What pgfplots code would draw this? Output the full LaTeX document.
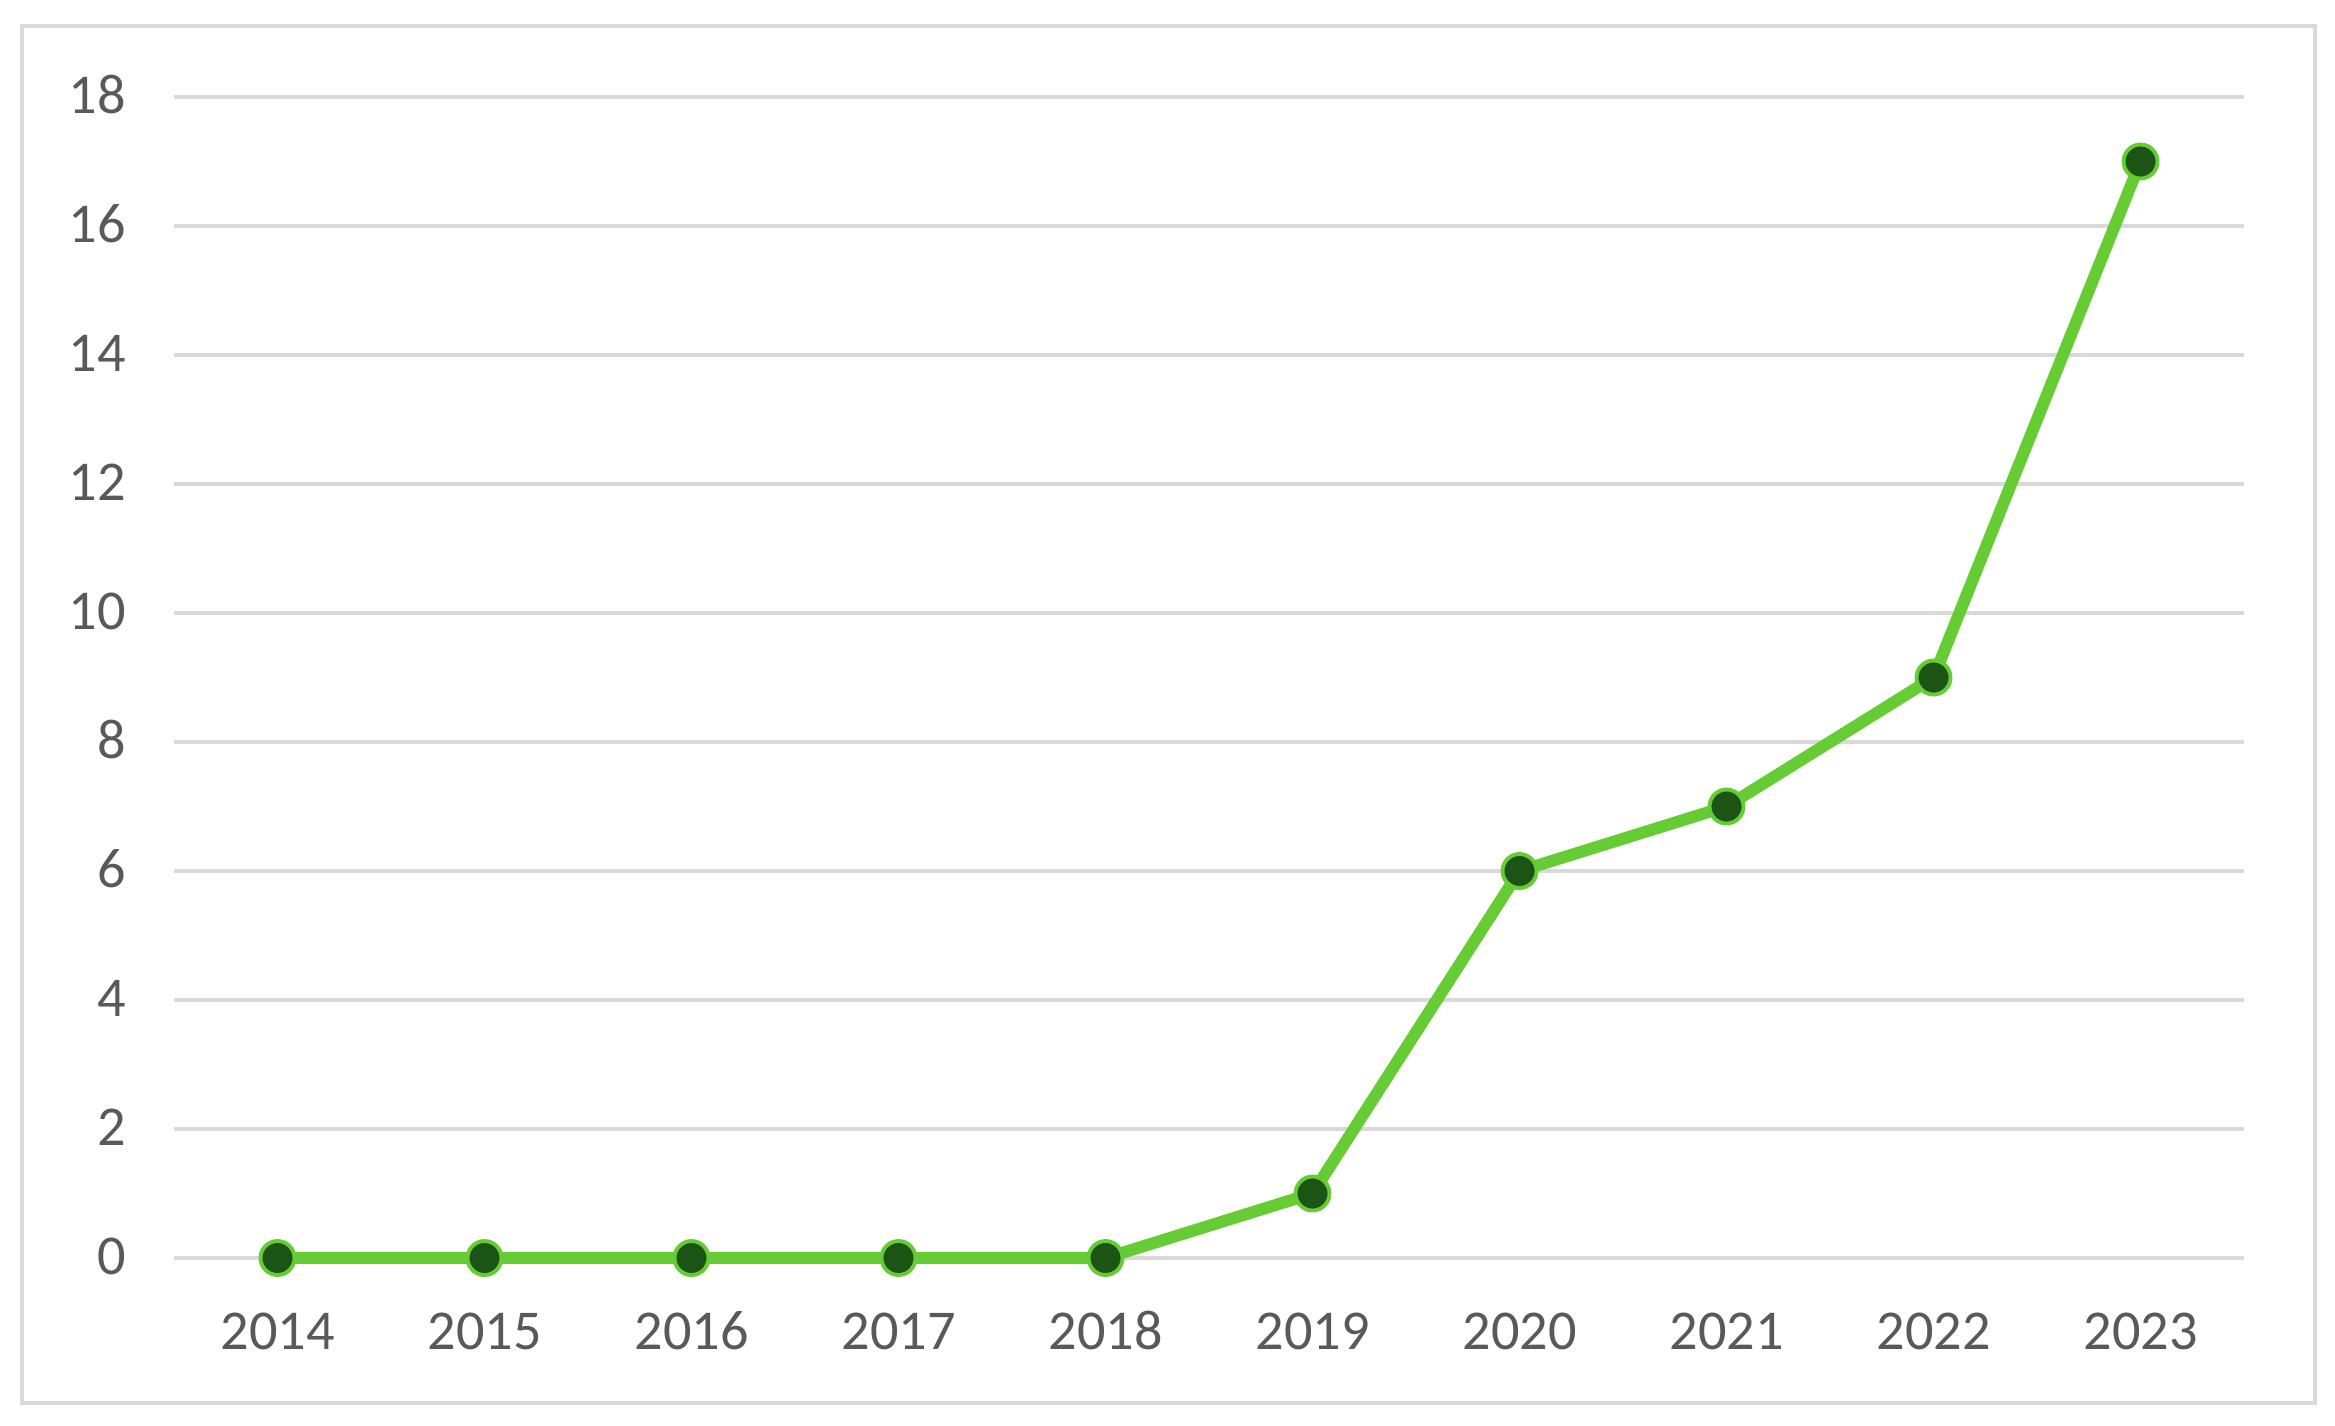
\documentclass[border=0pt]{standalone}
\usepackage{pgfplots}
\pgfplotsset{compat=1.18}
\usepackage{fontspec}
\setmainfont{Carlito}
\definecolor{txt}{HTML}{595959}
\definecolor{gridgray}{HTML}{D9D9D9}
\definecolor{linegreen}{RGB}{102,204,51}
\definecolor{dot}{RGB}{28,84,22}
\begin{document}
\begin{tikzpicture}
% page and chart border (1px = 0.01cm)
\fill[white] (0,0) rectangle (23.35cm,-14.26cm);
\draw[gridgray, line width=1.2pt] (0.22cm,-0.26cm) rectangle (23.15cm,-14.03cm);
\begin{axis}[
    at={(1.74cm,-12.58cm)}, anchor=south west,
    scale only axis,
    width=20.70cm, height=11.61cm,
    xmin=-0.5, xmax=9.5,
    ymin=0, ymax=18,
    ytick={0,2,...,18},
    xtick={0,...,9},
    xticklabels={2014,2015,2016,2017,2018,2019,2020,2021,2022,2023},
    axis line style={draw=none},
    major tick length=0pt,
    ymajorgrids, xmajorgrids=false,
    major grid style={draw=gridgray, line width=0.9pt},
    tick label style={font=\fontsize{16}{19}\selectfont, text=txt,
      text height=1.45ex, text depth=0pt},
    /pgf/number format/assume math mode=true,
    yticklabel style={xshift=-0.36cm, yshift=-0.045cm},
    xticklabel style={yshift=-0.55cm},
    clip=false,
  ]
\addplot[linegreen, line width=3.4pt, line join=round,
  mark=*, mark size=0.17cm,
  mark options={fill=dot, draw=linegreen, line width=1.1pt}]
  coordinates {(0,0) (1,0) (2,0) (3,0) (4,0) (5,1) (6,6) (7,7) (8,9) (9,17)};
\end{axis}
\end{tikzpicture}
\end{document}
